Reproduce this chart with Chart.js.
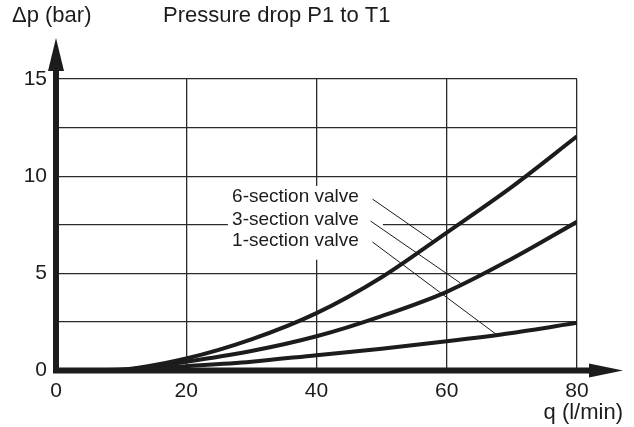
<!DOCTYPE html>
<html>
<head>
<meta charset="utf-8">
<script src="https://cdn.jsdelivr.net/npm/chart.js@4/dist/chart.umd.min.js"></script>
<style>
  html, body { margin: 0; padding: 0; background: #fff; }
  #wrap { width: 634px; height: 427px; }
</style>
</head>
<body>
<div id="wrap"><canvas id="chart" width="634" height="427"></canvas></div>
<script>
const flow = [0, 10, 20, 30, 40, 50, 60, 70, 80];
const sixSection = [0, 0.05, 0.62, 1.6, 2.95, 4.8, 7.1, 9.45, 12.05];
const threeSection = [0, 0.03, 0.45, 1.0, 1.76, 2.8, 4.05, 5.75, 7.65];
const oneSection = [0, 0.02, 0.22, 0.45, 0.79, 1.12, 1.5, 1.93, 2.46];

const seriesNames = ['6-section valve', '3-section valve', '1-section valve'];
// label anchor (right end of text) and leader line ends, in data units
const labelX = [46.5, 46.5, 46.5];
const labelY = [8.93, 7.78, 6.68];
const leaderFrom = [[48.6, 8.82], [48.3, 7.69], [48.6, 6.61]];
const leaderTo = [[58.1, 6.61], [62.1, 4.5], [67.6, 1.86]];

const yTitle = '\u0394p (bar)';
const chartTitle = 'Pressure drop P1 to T1';
const xTitle = 'q (l/min)';

const FONT = '"Liberation Sans", Arial, Helvetica, sans-serif';
const INK = '#1c1c1c';

const toPoints = vals => vals.map((v, i) => ({ x: flow[i], y: v }));

const decorations = {
    id: 'decorations',
    beforeDatasetsDraw(chart) {
        const { ctx, scales: { x, y } } = chart;
        // white box behind the labels, cuts the grid
        ctx.save();
        ctx.fillStyle = '#fff';
        const l = x.getPixelForValue(26.4), r = x.getPixelForValue(50.2);
        const t = y.getPixelForValue(9.5), b = y.getPixelForValue(5.7);
        ctx.fillRect(l, t, r - l, b - t);
        ctx.restore();
    },
    afterDatasetsDraw(chart) {
        const { ctx, chartArea, scales: { x, y } } = chart;
        ctx.save();

        // labels + leader lines
        ctx.font = '19px ' + FONT;
        ctx.fillStyle = INK;
        ctx.textAlign = 'right';
        ctx.textBaseline = 'middle';
        seriesNames.forEach((name, i) => {
            ctx.fillText(name, x.getPixelForValue(labelX[i]), y.getPixelForValue(labelY[i]));
        });
        ctx.strokeStyle = INK;
        ctx.lineWidth = 1;
        leaderFrom.forEach((p, i) => {
            ctx.beginPath();
            ctx.moveTo(x.getPixelForValue(p[0]), y.getPixelForValue(p[1]));
            ctx.lineTo(x.getPixelForValue(leaderTo[i][0]), y.getPixelForValue(leaderTo[i][1]));
            ctx.stroke();
        });

        // thick axes with arrows
        const x0 = x.getPixelForValue(0), y0 = y.getPixelForValue(0);
        ctx.fillStyle = INK;
        ctx.strokeStyle = INK;
        ctx.lineWidth = 6;
        ctx.beginPath();
        ctx.moveTo(x0, y0);
        ctx.lineTo(x0, 70);
        ctx.moveTo(x0 - 3, y0);
        ctx.lineTo(592, y0);
        ctx.stroke();
        ctx.beginPath();
        ctx.moveTo(x0, 38);
        ctx.lineTo(x0 - 8, 71);
        ctx.lineTo(x0 + 8, 71);
        ctx.closePath();
        ctx.fill();
        ctx.beginPath();
        ctx.moveTo(623, y0);
        ctx.lineTo(589, y0 - 7);
        ctx.lineTo(589, y0 + 7);
        ctx.closePath();
        ctx.fill();

        // titles
        ctx.font = '22px ' + FONT;
        ctx.textBaseline = 'middle';
        ctx.textAlign = 'left';
        ctx.fillText(yTitle, 12, 16);
        ctx.fillText(chartTitle, 163, 16);
        ctx.textAlign = 'right';
        ctx.fillText(xTitle, 623, 413);
        ctx.restore();
    }
};

const lineStyle = {
    borderColor: INK,
    borderWidth: 4,
    pointRadius: 0,
    fill: false,
    cubicInterpolationMode: 'monotone'
};

new Chart(document.getElementById('chart'), {
    type: 'line',
    data: {
        datasets: [
            { label: seriesNames[0], data: toPoints(sixSection), ...lineStyle },
            { label: seriesNames[1], data: toPoints(threeSection), ...lineStyle },
            { label: seriesNames[2], data: toPoints(oneSection), ...lineStyle }
        ]
    },
    options: {
        responsive: false,
        animation: false,
        events: [],
        layout: { padding: { top: 79, right: 57, left: 0, bottom: 0 } },
        plugins: { legend: { display: false }, tooltip: { enabled: false } },
        scales: {
            x: {
                type: 'linear',
                min: 0,
                max: 80,
                afterFit: s => { s.height = 56.5; },
                border: { display: false },
                grid: { color: '#2a2a2a', lineWidth: 1.3, drawTicks: false },
                ticks: { stepSize: 20, padding: 8, color: INK, font: { family: FONT, size: 21 } }
            },
            y: {
                min: 0,
                max: 15,
                afterFit: s => { s.width = 56; },
                border: { display: false },
                grid: { color: '#2a2a2a', lineWidth: 1.3, drawTicks: false },
                ticks: {
                    stepSize: 2.5,
                    padding: 9,
                    color: INK,
                    font: { family: FONT, size: 21 },
                    callback: v => (v % 5 === 0 ? v : '')
                }
            }
        }
    },
    plugins: [decorations]
});
</script>
</body>
</html>
